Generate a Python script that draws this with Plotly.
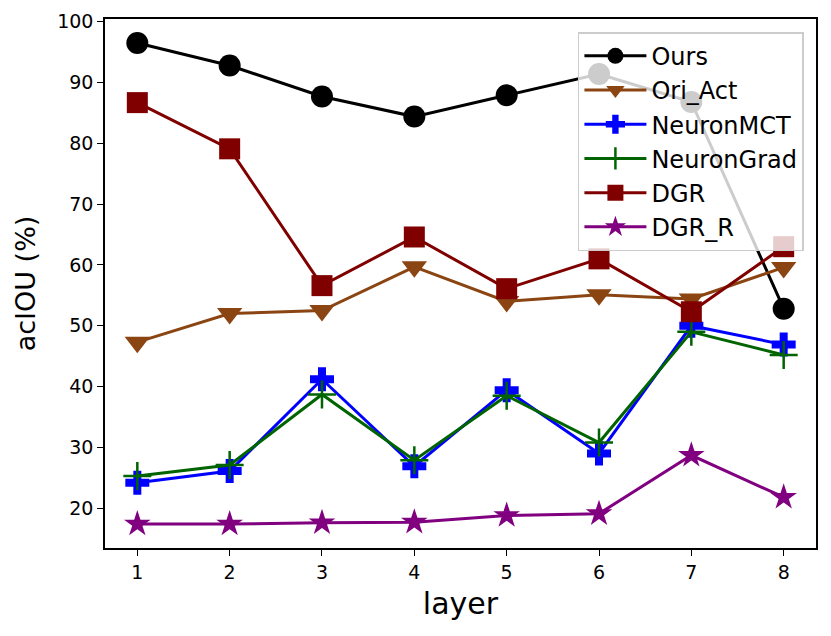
import plotly.graph_objects as go

layers = [1, 2, 3, 4, 5, 6, 7, 8]
ours = [96.5, 92.8, 87.7, 84.4, 87.9, 91.4, 86.8, 52.8]
ori_act = [47.3, 52.0, 52.5, 59.7, 54.0, 55.1, 54.4, 59.6]
neuron_mct = [24.2, 26.1, 41.2, 26.9, 39.4, 29.0, 50.0, 46.9]
neuron_grad = [25.3, 27.1, 38.7, 27.9, 38.5, 30.8, 49.0, 45.2]
dgr = [86.7, 79.1, 56.6, 64.6, 56.1, 61.0, 52.3, 63.0]
dgr_r = [17.4, 17.4, 17.6, 17.7, 18.8, 19.1, 28.7, 21.8]

series = [
    ("Ours", ours, "black", "circle", 22),
    ("Ori_Act", ori_act, "#8B4513", "triangle-down", 22),
    ("NeuronMCT", neuron_mct, "blue", "cross", 20),
    ("NeuronGrad", neuron_grad, "#006400", "cross-thin", 20),
    ("DGR", dgr, "#800000", "square", 21),
    ("DGR_R", dgr_r, "#800080", "star", 20),
]

fig = go.Figure()
for name, vals, color, sym, size in series:
    marker = dict(symbol=sym, size=size, color=color, line=dict(width=0))
    if sym == "cross-thin":
        marker["line"] = dict(width=2.5, color=color)
    fig.add_trace(go.Scatter(
        x=layers, y=vals, name=name, mode="lines+markers", legendgroup=name,
        line=dict(color=color, width=3), marker=marker,
    ))

axis_common = dict(
    showline=True, linecolor="black", linewidth=1.5, mirror=True,
    ticks="outside", ticklen=6, tickwidth=1.3, tickcolor="black",
    showgrid=False, zeroline=False, automargin=False,
    tickfont=dict(family="DejaVu Sans", size=19, color="black"),
)

# page body has an 8px default margin, so the figure is sized to fit the window
fig.update_layout(
    width=823, height=628,
    margin=dict(l=97, r=15, t=11, b=88),
    paper_bgcolor="white", plot_bgcolor="white",
    font=dict(family="DejaVu Sans", color="black"),
    xaxis=dict(range=[0.65, 8.35], tickvals=layers,
               title=dict(text="layer", font=dict(size=30), standoff=11),
               **axis_common),
    yaxis=dict(range=[13.45, 100.45], tickvals=[20, 30, 40, 50, 60, 70, 80, 90, 100],
               title=dict(text="acIOU (%)", font=dict(size=27), standoff=14),
               **axis_common),
    legend=dict(
        x=0.983, y=0.975, xanchor="right", yanchor="top",
        bgcolor="rgba(255,255,255,0.8)", bordercolor="#cccccc", borderwidth=1.5,
        font=dict(family="DejaVu Sans", size=24, color="black"),
        tracegroupgap=0, itemwidth=62,
    ),
)

fig.write_html("out.html")
